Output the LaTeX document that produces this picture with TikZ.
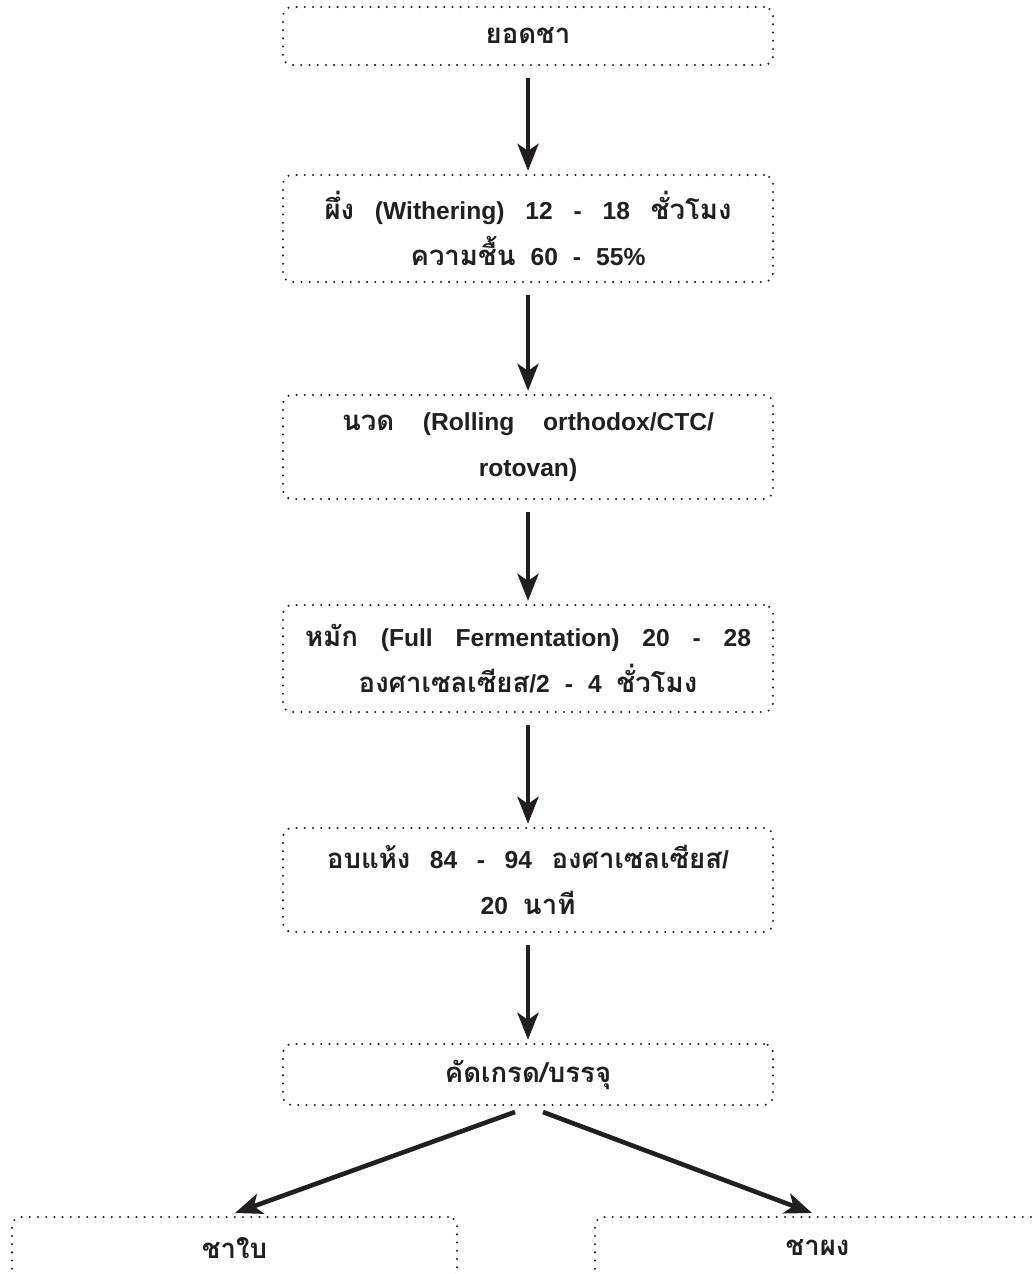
\documentclass[tikz,border=0pt]{standalone}
\usepackage{fontspec}
\setmainfont{Liberation Sans}
\newfontfamily\thaifont[Script=Thai,Scale=1.12]{Loma}
\usetikzlibrary{arrows.meta}
\definecolor{ink}{RGB}{35,31,32}
\newcommand\tf[1]{{\thaifont\bfseries #1}}
\newcommand\widespaces{\spaceskip=15pt plus 20pt minus 5pt\relax}
\newcommand\jline[2]{\makebox[#1][s]{#2}}
\tikzset{
  box/.style={draw=ink, line width=2.3pt, dash pattern=on 0pt off 8.2pt, line cap=round,
    rounded corners=9pt, minimum width=490pt, inner sep=0pt, align=center,
    font=\fontsize{24.6}{46}\selectfont\bfseries\widespaces, text=ink},
  arr/.style={draw=ink, line width=4.6pt, -{Stealth[length=27pt,width=21pt,inset=7pt]},
    shorten <=12pt, shorten >=3pt}
}
\begin{document}
\begin{tikzpicture}[x=1pt,y=-1pt]
\useasboundingbox (0,0) rectangle (1035,1274);
\clip (0,0) rectangle (1035,1274);
\node[box, minimum height=58pt] (b1) at (528,36) {\tf{ยอดชา}};
\node[box, minimum height=107pt] (b2) at (528,228.5) {\jline{407pt}{\tf{ผึ่ง} (Withering) 12 - 18 \tf{ชั่วโมง}}\\ \tf{ความชื้น} 60 - 55\%};
\node[box, minimum height=104pt] (b3) at (528,447) {\jline{372pt}{\tf{นวด} (Rolling orthodox/CTC/}\\ rotovan)};
\node[box, minimum height=107pt] (b4) at (528,658.5) {\jline{446pt}{\tf{หมัก} (Full Fermentation) 20 - 28}\\ \tf{องศาเซลเซียส}/2 - 4 \tf{ชั่วโมง}};
\node[box, minimum height=104pt] (b5) at (528,880) {\jline{402pt}{\tf{อบแห้ง} 84 - 94 \tf{องศาเซลเซียส}/}\\ 20 \tf{นาที}};
\node[box, minimum height=61pt] (b6) at (528,1074.5) {\tf{คัดเกรด/บรรจุ}};
\node[box, minimum height=62pt, minimum width=445pt] (cl) at (234.5,1248) {\tf{ชาใบ}};
\node[box, minimum height=62pt, minimum width=445pt] (cr) at (817.5,1248) {\tf{ชาผง}};
\draw[arr] (b1) -- (b2);
\draw[arr] (b2) -- (b3);
\draw[arr] (b3) -- (b4);
\draw[arr] (b4) -- (b5);
\draw[arr] (b5) -- (b6);
\coordinate (sl) at (515,1112);
\coordinate (sr) at (543,1112);
\coordinate (tl) at (235,1213);
\coordinate (tr) at (812,1213);
\draw[arr, shorten <=0pt, shorten >=0pt] (sl) -- (tl);
\draw[arr, shorten <=0pt, shorten >=0pt] (sr) -- (tr);
\end{tikzpicture}
\end{document}
